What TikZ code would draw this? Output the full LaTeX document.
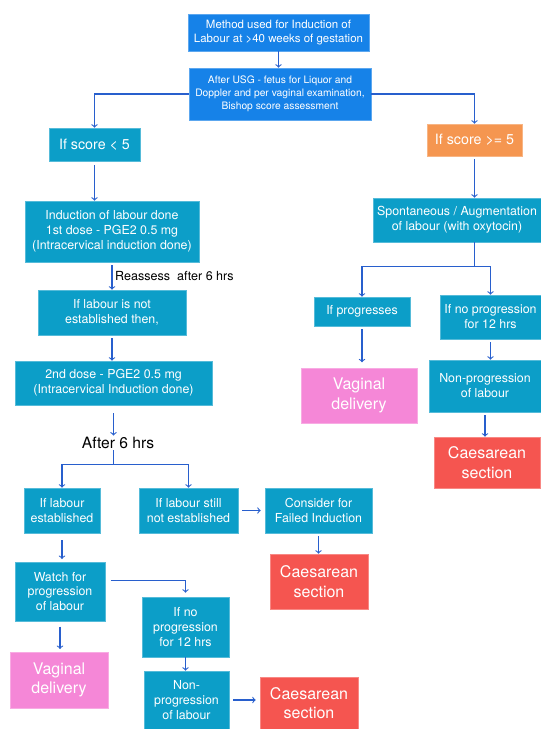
\documentclass[tikz,border=0pt]{standalone}
\usepackage{fontspec}
\setmainfont{TeX Gyre Heros}
\usetikzlibrary{arrows}
\definecolor{boxblue}{RGB}{22,130,232}
\definecolor{boxteal}{RGB}{12,158,200}
\definecolor{boxorange}{RGB}{245,150,80}
\definecolor{boxpink}{RGB}{245,135,215}
\definecolor{boxred}{RGB}{245,85,80}
\definecolor{arrowblue}{RGB}{40,95,205}

\begin{document}
\begin{tikzpicture}[x=0.75pt,y=-0.75pt,>=to,
  blk/.style={draw=#1!70!white, fill=#1, line width=0.5pt, text=white, align=center, inner sep=0pt},
  smalltxt/.style={font=\fontsize{8.6}{10.5}\selectfont},
  tinytxt/.style={font=\fontsize{7.7}{9.6}\selectfont},
  midtxt/.style={font=\fontsize{9.3}{11.2}\selectfont},
  scoretxt/.style={font=\fontsize{10.7}{13}\selectfont},
  bigtxt/.style={font=\fontsize{12}{14.5}\selectfont},
  line/.style={draw=arrowblue, line width=0.8pt},
  arr/.style={->, draw=arrowblue, line width=0.8pt}]
\useasboundingbox (0,0) rectangle (541,729);

% top
\node[blk=boxblue, smalltxt, minimum width=135.75pt, minimum height=27.75pt] (method) at (278.5,32.5) {Method used for Induction of\\Labour at >40 weeks of gestation};
\node[blk=boxblue, tinytxt, minimum width=136.5pt, minimum height=39pt] (usg) at (280,94) {After USG - fetus for Liquor and\\Doppler and per vaginal examination,\\Bishop score assessment};
\node[blk=boxteal, scoretxt, minimum width=68.25pt, minimum height=24.75pt] (low) at (94.5,144.5) {If score < 5};
\node[blk=boxorange, scoretxt, minimum width=71.25pt, minimum height=24pt] (high) at (474.5,140) {If score >= 5};

% left branch
\node[blk=boxteal, midtxt, minimum width=130.5pt, minimum height=45.75pt] (first) at (112,231.5) {Induction of labour done\\1st dose - PGE2 0.5 mg\\(Intracervical induction done)};
\node[blk=boxteal, midtxt, minimum width=111pt, minimum height=33.75pt] (notest) at (112,312.5) {If labour is not\\established then,};
\node[blk=boxteal, midtxt, minimum width=147.75pt, minimum height=33pt] (second) at (113.5,383) {2nd dose - PGE2 0.5 mg\\(Intracervical Induction done)};
\node[font=\fontsize{11.7}{14}\selectfont, inner sep=1pt] (after6) at (118,443) {After 6 hrs};
\node[blk=boxteal, midtxt, minimum width=57pt, minimum height=33.75pt] (est) at (62,510.5) {If labour\\established};
\node[blk=boxteal, midtxt, minimum width=74.25pt, minimum height=33.75pt] (stillnot) at (188.5,510.5) {If labour still\\not established};
\node[blk=boxteal, midtxt, minimum width=80.25pt, minimum height=33.75pt] (failed) at (318.5,510.5) {Consider for\\Failed Induction};
\node[blk=boxred, bigtxt, minimum width=73.5pt, minimum height=41.25pt] (cs1) at (319,581.5) {Caesarean\\section};
\node[blk=boxteal, midtxt, minimum width=67.5pt, minimum height=44.25pt] (watch) at (60,591.5) {Watch for\\progression\\of labour};
\node[blk=boxteal, midtxt, minimum width=65.25pt, minimum height=45pt] (noprog) at (185.5,627) {If no\\progression\\for 12 hrs};
\node[blk=boxpink, bigtxt, minimum width=73.5pt, minimum height=42pt] (vd1) at (59,680) {Vaginal\\delivery};
\node[blk=boxteal, midtxt, minimum width=63.75pt, minimum height=43.5pt] (nonprog) at (186.5,700) {Non-\\progression\\of labour};
\node[blk=boxred, bigtxt, minimum width=73.5pt, minimum height=39pt] (cs2) at (309,703) {Caesarean\\section};

% right branch
\node[blk=boxteal, midtxt, minimum width=126pt, minimum height=33pt] (spont) at (457,220) {Spontaneous / Augmentation\\of labour (with oxytocin)};
\node[blk=boxteal, midtxt, minimum width=72pt, minimum height=21.75pt] (prog) at (362,311.5) {If progresses};
\node[blk=boxteal, midtxt, minimum width=75.75pt, minimum height=33pt] (noprog12) at (490.5,317) {If no progression\\for 12 hrs};
\node[blk=boxpink, bigtxt, minimum width=87pt, minimum height=41.25pt] (vd2) at (359,395.5) {Vaginal\\delivery};
\node[blk=boxteal, midtxt, minimum width=84pt, minimum height=39pt] (nonprog2) at (485,386) {Non-progression\\of labour};
\node[blk=boxred, bigtxt, minimum width=79.5pt, minimum height=38.25pt] (cs3) at (487,462.5) {Caesarean\\section};

% arrows
\draw[arr] (method.south) -- (method.south |- usg.north);
\draw[arr] (usg.west) -| (low.north);
\draw[arr] (usg.east) -| (high.north);
\draw[arr, shorten <=3pt] (low.south) -- (low.south |- first.north);
\draw[arr, shorten <=2pt] (high.south) -- (high.south |- spont.north);
\draw[line] (spont.south -| high.south) -- ++(0,24) coordinate (splitr);
\draw[arr] (splitr) -| (prog.north);
\draw[arr] (splitr) -| (noprog12.north);
\draw[arr, shorten <=2pt, shorten >=4pt] (prog.south) -- (prog.south |- vd2.north);
\draw[arr, shorten <=2pt] (noprog12.south) -- (noprog12.south |- nonprog2.north);
\draw[arr, shorten <=2pt] (nonprog2.south) -- (nonprog2.south |- cs3.north);

\draw[arr, shorten <=2pt] (first.south) -- (first.south |- notest.north) node[midway, right, font=\fontsize{9.4}{11}\selectfont, inner sep=2pt] (reassess) {Reassess\ \ after 6 hrs};
\draw[arr, shorten <=2pt] (notest.south) -- (notest.south |- second.north);
\draw[arr, shorten <=6pt] (second.south) -- (second.south |- after6.north);
\draw[line] (after6.south -| second.south) -- ++(0,14) coordinate (splitl);
\draw[arr] (splitl) -| (est.north);
\draw[arr] (splitl) -| (stillnot.north);
\draw[arr, shorten <=3pt, shorten >=3pt] (stillnot.east) -- (failed.west);
\draw[arr, shorten <=2pt] (failed.south) -- (failed.south |- cs1.north);
\draw[arr, shorten <=5pt, shorten >=2pt] (est.south) -- (est.south |- watch.north);
\draw[arr, shorten <=4pt, shorten >=3pt] ([yshift=8.6pt]watch.east) -| (noprog.north);
\draw[arr, shorten <=4pt, shorten >=2pt] (watch.south) -- (watch.south |- vd1.north);
\draw[arr] (noprog.south) -- (noprog.south |- nonprog.north);
\draw[arr, shorten <=3pt, shorten >=3pt] (nonprog.east) -- (nonprog.east -| cs2.west);
\end{tikzpicture}
\end{document}
